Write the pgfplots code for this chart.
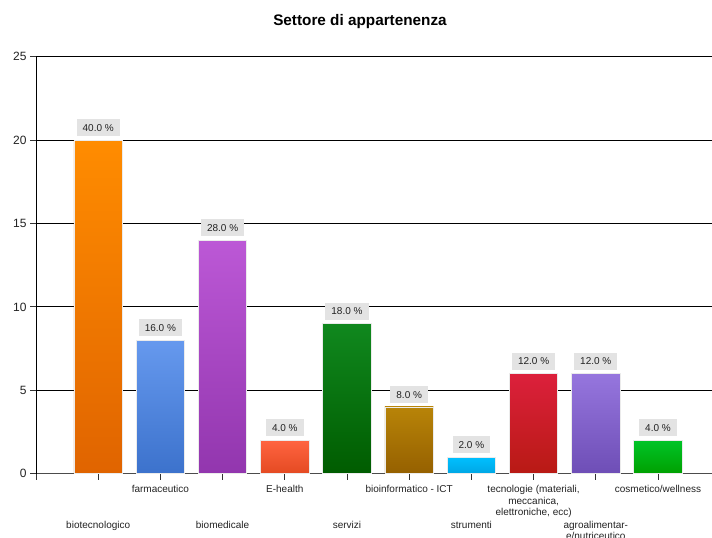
\documentclass[border=0pt]{standalone}
\usepackage{pgfplots}
\pgfplotsset{compat=1.18}
\usepackage{fontspec}
\setmainfont{Liberation Sans}

\definecolor{c1t}{HTML}{FF8C00}\definecolor{c1b}{HTML}{E06400}
\definecolor{c2t}{HTML}{6699EE}\definecolor{c2b}{HTML}{3C72CC}
\definecolor{c3t}{HTML}{BC58D6}\definecolor{c3b}{HTML}{9236AE}
\definecolor{c4t}{HTML}{FF6440}\definecolor{c4b}{HTML}{E44A22}
\definecolor{c5t}{HTML}{10881E}\definecolor{c5b}{HTML}{005C00}
\definecolor{c6t}{HTML}{B88408}\definecolor{c6b}{HTML}{956000}
\definecolor{c7t}{HTML}{00C0FF}\definecolor{c7b}{HTML}{00A6E4}
\definecolor{c8t}{HTML}{DC203C}\definecolor{c8b}{HTML}{B81A14}
\definecolor{c9t}{HTML}{9676DE}\definecolor{c9b}{HTML}{6E4EB6}
\definecolor{c10t}{HTML}{00C428}\definecolor{c10b}{HTML}{00A000}
\definecolor{lblbg}{HTML}{E3E3E3}
\definecolor{txt}{HTML}{222222}

\pgfplotsset{
  mybar/.style 2 args={ybar, bar width=0.78, bar shift=0pt,
    draw=black!8, line width=0.8pt, top color=#1, bottom color=#2},
}
\tikzset{
  catlab/.style={anchor=north, inner sep=0pt, align=center,
    font=\fontsize{10}{11.5}\selectfont, text=txt},
}

\begin{document}
\begin{tikzpicture}[x=1pt,y=1pt]
\useasboundingbox (0,0) rectangle (712,538);
\clip (0,0) rectangle (712,538);
\node[anchor=base, font=\bfseries\fontsize{15.3}{18}\selectfont, text=black] at (360,512.3) {Settore di appartenenza};
\begin{axis}[
  at={(36pt,64.3pt)}, anchor=south west,
  scale only axis, width=684.2pt, height=417pt,
  xmin=0, xmax=11, ymin=0, ymax=25,
  axis x line*=bottom, axis y line*=left,
  axis line style={-, line width=0.8pt},
  x axis line style={draw=black!70},
  y axis line style={draw=black},
  ytick={0,5,...,25},
  xtick={0,...,10},
  xticklabels={},
  ymajorgrids, grid style={black, line width=0.8pt},
  tick align=outside, major tick length=6pt,
  tick style={black!80, line width=0.8pt},
  yticklabel style={font=\fontsize{12}{14}\selectfont, text=txt},
  /pgf/number format/assume math mode=true,
  clip=false,
  point meta=explicit symbolic,
  nodes near coords={\pgfplotspointmeta\ \%},
  every node near coord/.append style={anchor=south, yshift=3.5pt,
    fill=lblbg, draw=none, text=txt, font=\fontsize{10}{12}\selectfont,
    inner xsep=6pt, inner ysep=0pt, minimum height=17pt},
]
\addplot[mybar={c1t}{c1b}] coordinates {(1,20) [40.0]};
\addplot[mybar={c2t}{c2b}] coordinates {(2,8) [16.0]};
\addplot[mybar={c3t}{c3b}] coordinates {(3,14) [28.0]};
\addplot[mybar={c4t}{c4b}] coordinates {(4,2) [4.0]};
\addplot[mybar={c5t}{c5b}] coordinates {(5,9) [18.0]};
\addplot[mybar={c6t}{c6b}] coordinates {(6,4) [8.0]};
\addplot[mybar={c7t}{c7b}] coordinates {(7,1) [2.0]};
\addplot[mybar={c8t}{c8b}] coordinates {(8,6) [12.0]};
\addplot[mybar={c9t}{c9b}] coordinates {(9,6) [12.0]};
\addplot[mybar={c10t}{c10b}] coordinates {(10,2) [4.0]};

\node[catlab, yshift=-46.3pt] at (axis cs:1,0) {\strut biotecnologico};
\node[catlab, yshift=-10.8pt] at (axis cs:2,0) {\strut farmaceutico};
\node[catlab, yshift=-46.3pt] at (axis cs:3,0) {\strut biomedicale};
\node[catlab, yshift=-10.8pt] at (axis cs:4,0) {\strut E-health};
\node[catlab, yshift=-46.3pt] at (axis cs:5,0) {\strut servizi};
\node[catlab, yshift=-10.8pt] at (axis cs:6,0) {\strut bioinformatico - ICT};
\node[catlab, yshift=-46.3pt] at (axis cs:7,0) {\strut strumenti};
\node[catlab, yshift=-10.8pt] at (axis cs:8,0) {\strut tecnologie (materiali,\\meccanica,\\elettroniche, ecc)};
\node[catlab, yshift=-46.3pt] at (axis cs:9,0) {\strut agroalimentar-\\e/nutriceutico};
\node[catlab, yshift=-10.8pt] at (axis cs:10,0) {\strut cosmetico/wellness};
\end{axis}
\end{tikzpicture}
\end{document}
